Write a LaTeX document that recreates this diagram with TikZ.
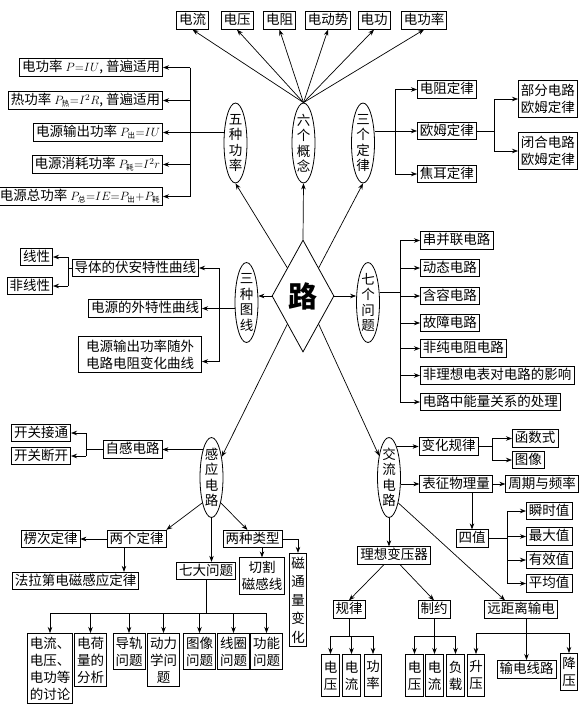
\documentclass[tikz,border=0pt]{standalone}
\usepackage{amsmath}
\usepackage{fontspec}
\setmainfont{Noto Sans CJK SC}
\usetikzlibrary{arrows.meta,shapes.geometric}
\newcommand{\myfs}{\fontsize{13.5}{17}\selectfont}
\newcommand{\myfe}{\fontsize{13.5}{15.5}\selectfont}
\newcommand{\ssub}[1]{\mbox{\fontsize{7.5}{8}\selectfont #1}}
\newcommand{\mth}[1]{{\fontsize{12.5}{15}\selectfont$#1$}}
\begin{document}
\begin{tikzpicture}[x=1pt,y=-1pt,
 bx/.style={draw,line width=0.8pt,inner xsep=2.5pt,inner ysep=2pt,font=\myfs,text height=11pt,text depth=2.5pt},
 mb/.style={draw,line width=0.8pt,inner xsep=2.5pt,inner ysep=3.5pt,font=\myfs,align=center},
 vb/.style={mb,inner xsep=2pt,minimum height=42pt},
 el/.style={draw,ellipse,line width=0.8pt,minimum width=23pt,minimum height=80pt,inner sep=-6pt,align=center,font=\myfe},
 arr/.style={-{Stealth[length=6pt,width=4.5pt]},line width=0.7pt},
 ln/.style={line width=0.7pt}]
\useasboundingbox (0,0) rectangle (588,707);

% top concepts
\node[bx] (c1) at (192.5,20.5) {电流};
\node[bx] (c2) at (237,20.5) {电压};
\node[bx] (c3) at (279.5,20.5) {电阻};
\node[bx] (c4) at (328,20.5) {电动势};
\node[bx] (c5) at (374,20.5) {电功};
\node[bx] (c6) at (424,20.5) {电功率};

% ellipses
\node[el] (wz) at (235.5,143) {五\\种\\功\\率};
\node[el] (liu) at (303.5,143) {六\\个\\概\\念};
\node[el] (sg) at (363,143) {三\\个\\定\\律};
\node[el] (st) at (246.5,302.5) {三\\种\\图\\线};
\node[el] (qg) at (368,302.5) {七\\个\\问\\题};
\node[el] (gy) at (211.5,477.5) {感\\应\\电\\路};
\node[el] (jl) at (389,477.5) {交\\流\\电\\路};

\node[draw,diamond,line width=0.8pt,minimum width=62pt,minimum height=112pt,inner sep=0pt,font=\fontsize{29}{29}\selectfont\bfseries] (lu) at (303,296) {路};

\foreach \c in {c1,c2,c3,c4,c5,c6} \draw[arr] (liu.north) -- (\c.south);

% diamond connectors
\draw[arr] (lu.north) -- (liu.south);
\draw[arr] (lu.north west) -- (wz.south);
\draw[arr] (lu.north east) -- (sg.south);
\draw[arr] (lu.west) -- (lu.west -| st.east);
\draw[arr] (lu.east) -- (lu.east -| qg.west);
\draw[arr] (lu.south west) -- (gy);
\draw[arr] (lu.south east) -- (jl);

% five powers
\node[bx,anchor=east] (p1) at (163,67.5) {电功率\hspace{3pt}\mth{P{=}IU}, 普遍适用};
\node[bx,anchor=east] (p2) at (163,100.5) {热功率\hspace{3pt}\mth{P_{\ssub{热}}{=}I^2R}, 普遍适用};
\node[bx,anchor=east] (p3) at (163,132.5) {电源输出功率\hspace{3pt}\mth{P_{\ssub{出}}{=}IU}};
\node[bx,anchor=east] (p4) at (163,164.5) {电源消耗功率\hspace{3pt}\mth{P_{\ssub{耗}}{=}I^2r}};
\node[bx,anchor=east] (p5) at (163,196.5) {电源总功率\hspace{3pt}\mth{P_{\ssub{总}}{=}IE{=}P_{\ssub{出}}{+}P_{\ssub{耗}}}};
\coordinate (b5) at (190,0);
\draw[ln] (wz.west |- p3.east) -- (b5 |- p3.east);
\draw[ln] (b5 |- p1.east) -- (b5 |- p5.east);
\foreach \p in {p1,p2,p3,p4,p5} \draw[arr] (b5 |- \p.east) -- (\p.east);

% three laws
\node[bx,anchor=west] (l1) at (417,89.5) {电阻定律};
\node[bx,anchor=west] (l2) at (417,131) {欧姆定律};
\node[bx,anchor=west] (l3) at (417,174) {焦耳定律};
\coordinate (b3) at (395,0);
\draw[arr] (sg.east |- l2.west) -- (l2.west);
\draw[ln] (b3 |- l1.west) -- (b3 |- l3.west);
\draw[arr] (b3 |- l1.west) -- (l1.west);
\draw[arr] (b3 |- l3.west) -- (l3.west);
\node[mb,anchor=west] (o1) at (518,99) {部分电路\\欧姆定律};
\node[mb,anchor=west] (o2) at (518,151) {闭合电路\\欧姆定律};
\coordinate (bo) at (494,0);
\draw[ln] (l2.east) -- (l2.east -| bo);
\draw[ln] (bo |- o1.west) -- (bo |- o2.west);
\draw[arr] (bo |- o1.west) -- (o1.west);
\draw[arr] (bo |- o2.west) -- (o2.west);

% three graphs
\node[bx,anchor=east] (t1) at (199,268) {导体的伏安特性曲线};
\node[bx,anchor=east] (t2) at (202,308.5) {电源的外特性曲线};
\node[mb,anchor=east,minimum width=123pt] (t3) at (202,354.5) {电源输出功率随外\\电路电阻变化曲线};
\coordinate (t3p) at ([yshift=-7pt]t3.east);
\coordinate (bt) at (219,0);
\draw[arr] (st.west |- t2.east) -- (t2.east);
\draw[ln] (bt |- t1.east) -- (bt |- t3p);
\draw[arr] (bt |- t1.east) -- (t1.east);
\draw[arr] (bt |- t3p) -- (t3p);
\node[bx,anchor=east] (n1) at (53,257) {线性};
\node[bx,anchor=east] (n2) at (53,286) {非线性};
\coordinate (bn) at (68,0);
\draw[ln] (t1.west) -- (t1.west -| bn);
\draw[ln] (bn |- n1.east) -- (bn |- n2.east);
\draw[arr] (bn |- n1.east) -- (n1.east);
\draw[arr] (bn |- n2.east) -- (n2.east);

% seven problems
\node[bx,anchor=west] (q1) at (420,240.5) {串并联电路};
\node[bx,anchor=west] (q2) at (420,268) {动态电路};
\node[bx,anchor=west] (q3) at (420,296) {含容电路};
\node[bx,anchor=west] (q4) at (420,323) {故障电路};
\node[bx,anchor=west] (q5) at (420,348.5) {非纯电阻电路};
\node[bx,anchor=west] (q6) at (420,375.5) {非理想电表对电路的影响};
\node[bx,anchor=west] (q7) at (420,402) {电路中能量关系的处理};
\coordinate (bq) at (400,292);
\draw[ln] (qg.east |- bq) -- (bq);
\draw[ln] (bq |- q1.west) -- (bq |- q7.west);
\foreach \q in {q1,q2,q3,q4,q5,q6,q7} \draw[arr] (bq |- \q.west) -- (\q.west);

% induction circuits
\node[bx] (zg) at (132.5,449.5) {自感电路};
\node[bx,anchor=east] (k1) at (71,433) {开关接通};
\node[bx,anchor=east] (k2) at (71,456) {开关断开};
\draw[arr] (gy.105 |- zg.east) -- (zg.east);
\coordinate (bk) at (86,0);
\draw[ln] (zg.west) -- (zg.west -| bk);
\draw[ln] (bk |- k1.east) -- (bk |- k2.east);
\draw[arr] (bk |- k1.east) -- (k1.east);
\draw[arr] (bk |- k2.east) -- (k2.east);

\node[bx] (ld) at (136.5,539) {两个定律};
\node[bx] (lc) at (50.5,539) {楞次定律};
\node[bx] (fl) at (75.5,581) {法拉第电磁感应定律};
\draw[arr] (gy.250) -- (ld.north east);
\draw[arr] (ld.west) -- (lc.east);
\draw[arr] ([xshift=-12.5pt]ld.south) -- ([xshift=-12.5pt]ld.south |- fl.north);

\node[bx] (dw) at (206,571) {七大问题};
\draw[arr] (gy.south) -- (gy.south |- dw.north);
\node[bx] (lz) at (252.5,539) {两种类型};
\draw[arr] (gy.290) -- ([xshift=-5pt]lz.north);
\node[mb] (qd) at (262,576) {切割\\磁感线};
\draw[arr] (qd.north |- lz.south) -- (qd.north);
\node[mb,inner xsep=2pt,font=\fontsize{13.5}{18.5}\selectfont] (ct) at (298,600) {磁\\通\\量\\变\\化};
\draw[arr] (lz.east) -- (ct.north |- lz.east) -- (ct.north);

\node[mb,anchor=north] (d1) at (50,633) {电流、\\电压、\\电功等\\的讨论};
\node[mb,anchor=north] (d2) at (90.5,633) {电荷\\量的\\分析};
\node[mb,anchor=north] (d3) at (129,633) {导轨\\问题};
\node[mb,anchor=north] (d4) at (163.5,633) {动力\\学问\\题};
\node[mb,anchor=north] (d5) at (199.5,633) {图像\\问题};
\node[mb,anchor=north] (d6) at (233.5,633) {线圈\\问题};
\node[mb,anchor=north] (d7) at (266.5,633) {功能\\问题};
\coordinate (bd) at (0,613);
\draw[ln] (dw.south) -- (dw.south |- bd);
\draw[ln] (d1.north |- bd) -- (d7.north |- bd);
\foreach \d in {d1,d2,d3,d4,d5,d6,d7} \draw[arr] (\d.north |- bd) -- (\d.north);

% AC circuits
\node[bx] (bh) at (448.5,446.5) {变化规律};
\draw[arr] (jl.75 |- bh.west) -- (bh.west);
\node[bx,anchor=west] (hs) at (512,438.5) {函数式};
\node[bx,anchor=west] (tx) at (512,460) {图像};
\coordinate (bb) at (492,0);
\draw[ln] (bh.east) -- (bh.east -| bb);
\draw[ln] (bb |- hs.west) -- (bb |- tx.west);
\draw[arr] (bb |- hs.west) -- (hs.west);
\draw[arr] (bb |- tx.west) -- (tx.west);

\node[bx] (bz) at (456,484) {表征物理量};
\draw[arr] (jl.east |- bz.west) -- (bz.west);
\node[bx] (zq) at (542,484) {周期与频率};
\draw[arr] (bz.east) -- (zq.west);
\node[bx] (sz) at (472,538.5) {四值};
\draw[arr] (sz.north |- bz.south) -- (sz.north);
\node[bx,anchor=west] (v1) at (526,511) {瞬时值};
\node[bx,anchor=west] (v2) at (526,536.5) {最大值};
\node[bx,anchor=west] (v3) at (526,560) {有效值};
\node[bx,anchor=west] (v4) at (526,583.5) {平均值};
\coordinate (bv) at (507,0);
\draw[ln] (sz.east) -- (sz.east -| bv);
\draw[ln] (bv |- v1.west) -- (bv |- v4.west);
\foreach \v in {v1,v2,v3,v4} \draw[arr] (bv |- \v.west) -- (\v.west);

\node[bx] (lx) at (394,555.5) {理想变压器};
\draw[arr] (jl.south) -- (jl.south |- lx.north);
\node[bx] (gl) at (349,609.5) {规律};
\node[bx] (zy) at (434,609.5) {制约};
\node[bx] (yc) at (521,609.5) {远距离输电};
\draw[arr] ([xshift=-10pt]lx.south) -- (gl.north);
\draw[arr] ([xshift=6pt]lx.south) -- (zy.north);
\draw[arr] (jl.290) -- ([xshift=-16pt]yc.north);

\node[vb,anchor=north] (g1) at (330.5,654) {电\\压};
\node[vb,anchor=north] (g2) at (351.5,654) {电\\流};
\node[vb,anchor=north] (g3) at (373,654) {功\\率};
\node[vb,anchor=north] (z1) at (414.5,654) {电\\压};
\node[vb,anchor=north] (z2) at (434.5,654) {电\\流};
\node[vb,anchor=north] (z3) at (455.5,654) {负\\载};
\node[vb,anchor=north] (y1) at (476,654) {升\\压};
\node[bx,anchor=north] (y2) at (526.5,660) {输电线路};
\node[vb,anchor=north,minimum height=37pt] (y3) at (569,653) {降\\压};

\coordinate (bg) at (0,636);
\draw[ln] (gl.south) -- (gl.south |- bg);
\draw[ln] (g1.north |- bg) -- (g3.north |- bg);
\foreach \g in {g1,g2,g3} \draw[arr] (\g.north |- bg) -- (\g.north);
\draw[ln] (zy.south) -- (zy.south |- bg);
\draw[ln] (z1.north |- bg) -- (z3.north |- bg);
\foreach \z in {z1,z2,z3} \draw[arr] (\z.north |- bg) -- (\z.north);
\coordinate (by) at (0,633);
\draw[ln] (y2.north |- yc.south) -- (y2.north |- by);
\draw[ln] (y1.north |- by) -- (y3.north |- by);
\draw[arr] (y1.north |- by) -- (y1.north);
\draw[arr] (y2.north |- by) -- (y2.north);
\draw[arr] (y3.north |- by) -- (y3.north);
\end{tikzpicture}
\end{document}
